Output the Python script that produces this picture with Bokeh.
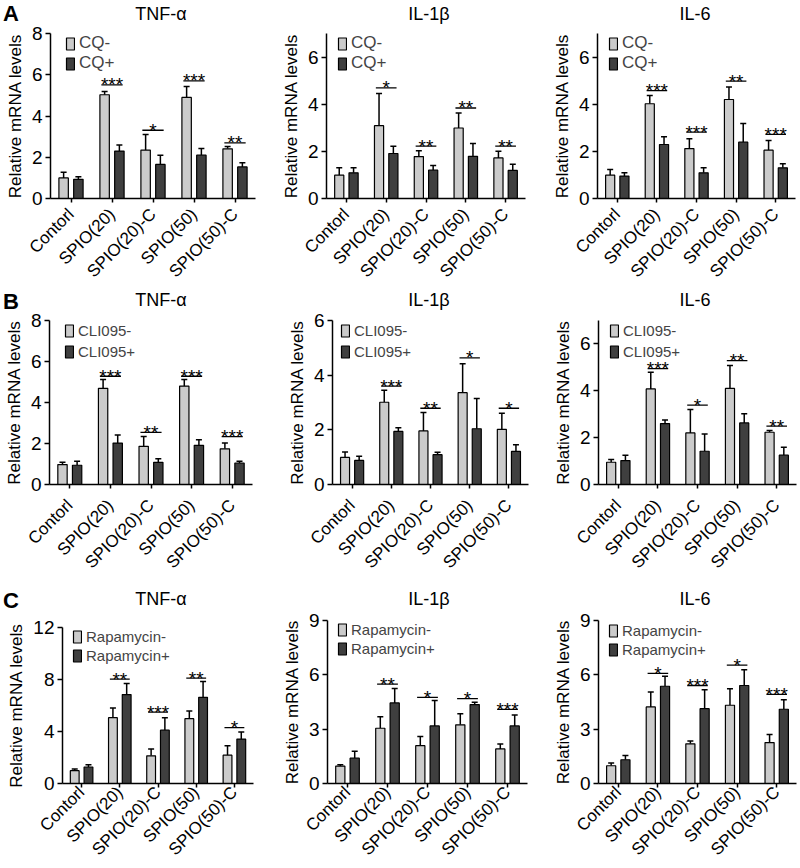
import math
from bokeh.plotting import figure
from bokeh.models import (ColumnDataSource, FactorRange, Range1d, FixedTicker, Whisker,
                          TeeHead, Legend, LegendItem, Div)
from bokeh.transform import dodge
from bokeh.layouts import column, row
from bokeh.embed import file_html
from bokeh.resources import INLINE

FONT = "Liberation Sans"

# ---------------- data ----------------
categories = ["Contorl", "SPIO(20)", "SPIO(20)-C", "SPIO(50)", "SPIO(50)-C"]
sig_categories = categories[1:]
genes = ["TNF-α", "IL-1β", "IL-6"]
panel_letters = ["A", "B", "C"]
y_axis_label = "Relative mRNA levels"

# Row A: CQ
cq_groups = ["CQ-", "CQ+"]
cq_tnf_neg = [1.00, 5.03, 2.35, 4.90, 2.41]
cq_tnf_neg_err = [0.27, 0.16, 0.75, 0.53, 0.11]
cq_tnf_pos = [0.93, 2.30, 1.65, 2.10, 1.53]
cq_tnf_pos_err = [0.12, 0.29, 0.45, 0.32, 0.20]
cq_tnf_sig_y = [5.51, 3.31, 5.70, 2.70]
cq_tnf_stars = ["***", "*", "***", "**"]
cq_tnf_ticks = [0, 2, 4, 6, 8]
cq_tnf_ymax = 8

cq_il1b_neg = [0.99, 3.09, 1.78, 2.99, 1.72]
cq_il1b_neg_err = [0.31, 1.36, 0.25, 0.64, 0.28]
cq_il1b_pos = [1.09, 1.91, 1.20, 1.79, 1.19]
cq_il1b_pos_err = [0.21, 0.31, 0.20, 0.54, 0.26]
cq_il1b_sig_y = [4.69, 2.22, 3.84, 2.22]
cq_il1b_stars = ["*", "**", "**", "**"]
cq_il1b_ticks = [0, 2, 4, 6]
cq_il1b_ymax = 7

cq_il6_neg = [0.99, 4.02, 2.12, 4.20, 2.05]
cq_il6_neg_err = [0.24, 0.35, 0.41, 0.53, 0.41]
cq_il6_pos = [0.95, 2.29, 1.09, 2.39, 1.30]
cq_il6_pos_err = [0.14, 0.33, 0.21, 0.79, 0.17]
cq_il6_sig_y = [4.58, 2.82, 4.98, 2.72]
cq_il6_stars = ["***", "***", "**", "***"]
cq_il6_ticks = [0, 2, 4, 6]
cq_il6_ymax = 7

# Row B: CLI095
cli_groups = ["CLI095-", "CLI095+"]
cli_tnf_neg = [0.97, 4.69, 1.86, 4.80, 1.74]
cli_tnf_neg_err = [0.11, 0.43, 0.48, 0.32, 0.28]
cli_tnf_pos = [0.94, 2.02, 1.08, 1.91, 1.05]
cli_tnf_pos_err = [0.19, 0.40, 0.18, 0.27, 0.08]
cli_tnf_sig_y = [5.28, 2.54, 5.28, 2.34]
cli_tnf_stars = ["***", "**", "***", "***"]
cli_tnf_ticks = [0, 2, 4, 6, 8]
cli_tnf_ymax = 8

cli_il1b_neg = [0.99, 3.01, 1.96, 3.36, 2.02]
cli_il1b_neg_err = [0.20, 0.44, 0.67, 1.06, 0.59]
cli_il1b_pos = [0.88, 1.94, 1.09, 2.04, 1.21]
cli_il1b_pos_err = [0.15, 0.14, 0.09, 1.11, 0.24]
cli_il1b_sig_y = [3.60, 2.79, 4.63, 2.79]
cli_il1b_stars = ["***", "**", "*", "*"]
cli_il1b_ticks = [0, 2, 4, 6]
cli_il1b_ymax = 6

cli_il6_neg = [0.95, 4.08, 2.20, 4.10, 2.23]
cli_il6_neg_err = [0.12, 0.71, 1.00, 0.98, 0.07]
cli_il6_pos = [1.02, 2.60, 1.42, 2.63, 1.25]
cli_il6_pos_err = [0.23, 0.15, 0.74, 0.39, 0.34]
cli_il6_sig_y = [4.95, 3.39, 5.29, 2.49]
cli_il6_stars = ["***", "*", "**", "**"]
cli_il6_ticks = [0, 2, 4, 6]
cli_il6_ymax = 7

# Row C: Rapamycin
rapa_groups = ["Rapamycin-", "Rapamycin+"]
rapa_tnf_neg = [0.99, 5.06, 2.13, 4.99, 2.18]
rapa_tnf_neg_err = [0.12, 0.74, 0.53, 0.58, 0.73]
rapa_tnf_pos = [1.27, 6.84, 4.10, 6.63, 3.42]
rapa_tnf_pos_err = [0.17, 0.86, 0.96, 1.22, 0.55]
rapa_tnf_sig_y = [8.03, 5.49, 8.10, 4.30]
rapa_tnf_stars = ["**", "***", "**", "*"]
rapa_tnf_ticks = [0, 4, 8, 12]
rapa_tnf_ymax = 12

rapa_il1b_neg = [0.96, 3.05, 2.09, 3.24, 1.91]
rapa_il1b_neg_err = [0.08, 0.64, 0.51, 0.61, 0.27]
rapa_il1b_pos = [1.40, 4.45, 3.18, 4.36, 3.18]
rapa_il1b_pos_err = [0.38, 0.79, 1.40, 0.13, 0.60]
rapa_il1b_sig_y = [5.49, 4.76, 4.69, 4.09]
rapa_il1b_stars = ["**", "*", "*", "***"]
rapa_il1b_ticks = [0, 3, 6, 9]
rapa_il1b_ymax = 9

rapa_il6_neg = [0.98, 4.23, 2.19, 4.32, 2.26]
rapa_il6_neg_err = [0.15, 0.82, 0.16, 0.91, 0.45]
rapa_il6_pos = [1.31, 5.37, 4.13, 5.41, 4.10]
rapa_il6_pos_err = [0.24, 0.55, 1.04, 0.87, 0.53]
rapa_il6_sig_y = [6.08, 5.41, 6.54, 4.92]
rapa_il6_stars = ["*", "***", "*", "***"]
rapa_il6_ticks = [0, 3, 6, 9]
rapa_il6_ymax = 9

panels = [
    [(cq_groups, cq_tnf_neg, cq_tnf_neg_err, cq_tnf_pos, cq_tnf_pos_err, cq_tnf_sig_y, cq_tnf_stars, cq_tnf_ticks, cq_tnf_ymax),
     (cq_groups, cq_il1b_neg, cq_il1b_neg_err, cq_il1b_pos, cq_il1b_pos_err, cq_il1b_sig_y, cq_il1b_stars, cq_il1b_ticks, cq_il1b_ymax),
     (cq_groups, cq_il6_neg, cq_il6_neg_err, cq_il6_pos, cq_il6_pos_err, cq_il6_sig_y, cq_il6_stars, cq_il6_ticks, cq_il6_ymax)],
    [(cli_groups, cli_tnf_neg, cli_tnf_neg_err, cli_tnf_pos, cli_tnf_pos_err, cli_tnf_sig_y, cli_tnf_stars, cli_tnf_ticks, cli_tnf_ymax),
     (cli_groups, cli_il1b_neg, cli_il1b_neg_err, cli_il1b_pos, cli_il1b_pos_err, cli_il1b_sig_y, cli_il1b_stars, cli_il1b_ticks, cli_il1b_ymax),
     (cli_groups, cli_il6_neg, cli_il6_neg_err, cli_il6_pos, cli_il6_pos_err, cli_il6_sig_y, cli_il6_stars, cli_il6_ticks, cli_il6_ymax)],
    [(rapa_groups, rapa_tnf_neg, rapa_tnf_neg_err, rapa_tnf_pos, rapa_tnf_pos_err, rapa_tnf_sig_y, rapa_tnf_stars, rapa_tnf_ticks, rapa_tnf_ymax),
     (rapa_groups, rapa_il1b_neg, rapa_il1b_neg_err, rapa_il1b_pos, rapa_il1b_pos_err, rapa_il1b_sig_y, rapa_il1b_stars, rapa_il1b_ticks, rapa_il1b_ymax),
     (rapa_groups, rapa_il6_neg, rapa_il6_neg_err, rapa_il6_pos, rapa_il6_pos_err, rapa_il6_sig_y, rapa_il6_stars, rapa_il6_ticks, rapa_il6_ymax)],
]

# ---------------- layout / style ----------------
LIGHT = "#cbcbcb"
DARK = "#3f3f3f"
fig_w = [265, 265, 268]
header_h = [20, 18, 18]          # header strip (letter + gene titles) per row
fig_h = [271, 281, 260]          # figure height per row
# (left, right, top, bottom) borders
borders = [
    [(50, 10, 13, 93), (61, 5, 13, 93), (67, 3, 13, 93)],
    [(49, 13, 11, 106), (67, 2, 11, 106), (68, 2, 11, 106)],
    [(62, 12, 19, 85), (62, 3, 12, 85), (68, 2, 12, 85)],
]
xlabel_standoff = [9, 14, 2]
title_cx = [161, 429, 695]
title_top = [5.2, 0.2, 0.2]
letter_top = [3.3, 0, 0]
legend_font = ["17px", "15px", "15px"]
legend_item_h = [20, 21, 19]
legend_dx = [[15, 11, 11], [15, 8, 11], [10, 10, 10]]
legend_dy = [[0, 0, 0], [0, 0, 0], [0, 0, 1]]
OFF = 0.18
BW = 0.23


def header(r):
    spans = ['<div style="position:absolute;left:3px;top:%.1fpx;font-family:\'%s\';'
             'font-size:22px;line-height:22px;font-weight:bold;color:black;">%s</div>'
             % (letter_top[r], FONT, panel_letters[r])]
    for c in range(3):
        spans.append('<div style="position:absolute;left:%dpx;top:%.1fpx;width:100px;'
                     'text-align:center;font-family:\'%s\';font-size:18px;line-height:18px;'
                     'color:black;white-space:nowrap;">%s</div>'
                     % (title_cx[c] - 50, title_top[r], FONT, genes[c]))
    html = ('<div style="position:relative;width:798px;height:%dpx;margin:0;padding:0;'
            'overflow:visible;">%s</div>' % (header_h[r], "".join(spans)))
    return Div(text=html, width=798, height=header_h[r], margin=0,
               styles={"overflow": "visible", "z-index": "10", "position": "relative"})


blocks = []
for r in range(3):
    figs = []
    for c in range(3):
        groups, neg, neg_err, pos, pos_err, sig_y, stars, ticks, ymax = panels[r][c]
        bl, br, bt, bb = borders[r][c]
        W, H = fig_w[c], fig_h[r]
        frame_h = H - bt - bb
        p = figure(width=W, height=H, x_range=FactorRange(*categories),
                   y_range=Range1d(0, ymax), output_backend="svg",
                   toolbar_location=None, min_border_left=bl, min_border_right=br,
                   min_border_top=bt, min_border_bottom=bb)
        if "frame_align" in p.properties():
            p.frame_align = False
        p.outline_line_color = None
        p.border_fill_alpha = 0
        p.xgrid.grid_line_color = None
        p.ygrid.grid_line_color = None
        p.x_range.range_padding = 0

        src = ColumnDataSource(dict(
            cat=categories, neg=neg, pos=pos,
            neg_up=[m + e for m, e in zip(neg, neg_err)],
            pos_up=[m + e for m, e in zip(pos, pos_err)],
        ))
        rn = p.vbar(x=dodge("cat", -OFF, range=p.x_range), top="neg", width=BW, source=src,
                    fill_color=LIGHT, line_color="black", line_width=1.2)
        rp = p.vbar(x=dodge("cat", OFF, range=p.x_range), top="pos", width=BW, source=src,
                    fill_color=DARK, line_color="black", line_width=1.2)
        for off, lo, hi in ((-OFF, "neg", "neg_up"), (OFF, "pos", "pos_up")):
            p.add_layout(Whisker(base=dodge("cat", off, range=p.x_range), lower=lo, upper=hi,
                                 source=src, dimension="height", line_width=1.5,
                                 line_color="black", lower_head=None,
                                 upper_head=TeeHead(size=6, line_width=1.5, line_color="black")))

        ssrc = ColumnDataSource(dict(cat=sig_categories, y=sig_y, stars=stars))
        p.segment(x0=dodge("cat", -0.26, range=p.x_range), x1=dodge("cat", 0.26, range=p.x_range),
                  y0="y", y1="y", source=ssrc, line_color="black", line_width=1.3)
        p.text(x="cat", y="y", text="stars", source=ssrc, text_align="center",
               text_baseline="middle", text_font={"value": FONT}, text_font_size={"value": "19px"},
               text_color="black")

        # axes
        p.xaxis.major_label_orientation = math.pi / 4
        p.xaxis.major_label_text_font = FONT
        p.xaxis.major_label_text_font_size = "17px"
        p.xaxis.major_label_text_color = "black"
        p.xaxis.major_tick_out = 4
        p.xaxis.major_tick_in = 0
        p.xaxis.major_tick_line_width = 1.5
        p.xaxis.axis_line_width = 1.5
        p.xaxis.major_label_standoff = xlabel_standoff[r]
        p.yaxis.ticker = FixedTicker(ticks=ticks)
        p.yaxis.axis_label = y_axis_label
        p.yaxis.axis_label_text_font = FONT
        p.yaxis.axis_label_text_font_size = "17px"
        p.yaxis.axis_label_text_font_style = "normal"
        p.yaxis.axis_label_text_color = "black"
        p.yaxis.axis_label_standoff = 4
        p.yaxis.major_label_text_font = FONT
        p.yaxis.major_label_text_font_size = "19px"
        p.yaxis.major_label_text_color = "black"
        p.yaxis.major_label_standoff = 3
        p.yaxis.major_tick_out = 5
        p.yaxis.major_tick_in = 0
        p.yaxis.major_tick_line_width = 1.5
        p.yaxis.minor_tick_line_color = None
        p.yaxis.axis_line_width = 1.5

        # legend
        lh = 2 * legend_item_h[r]
        legend = Legend(items=[LegendItem(label=groups[0], renderers=[rn]),
                               LegendItem(label=groups[1], renderers=[rp])],
                        location=(legend_dx[r][c], frame_h - lh - legend_dy[r][c]),
                        glyph_width=10, glyph_height=15, label_standoff=4, spacing=0,
                        padding=0, margin=0, border_line_color=None,
                        background_fill_alpha=0, label_text_font=FONT,
                        label_text_font_size=legend_font[r], label_height=legend_item_h[r])
        p.add_layout(legend)
        figs.append(p)
    blocks.append(header(r))
    blocks.append(row(*figs))

layout = column(*blocks)
open("out.html", "w").write(file_html(layout, INLINE))
